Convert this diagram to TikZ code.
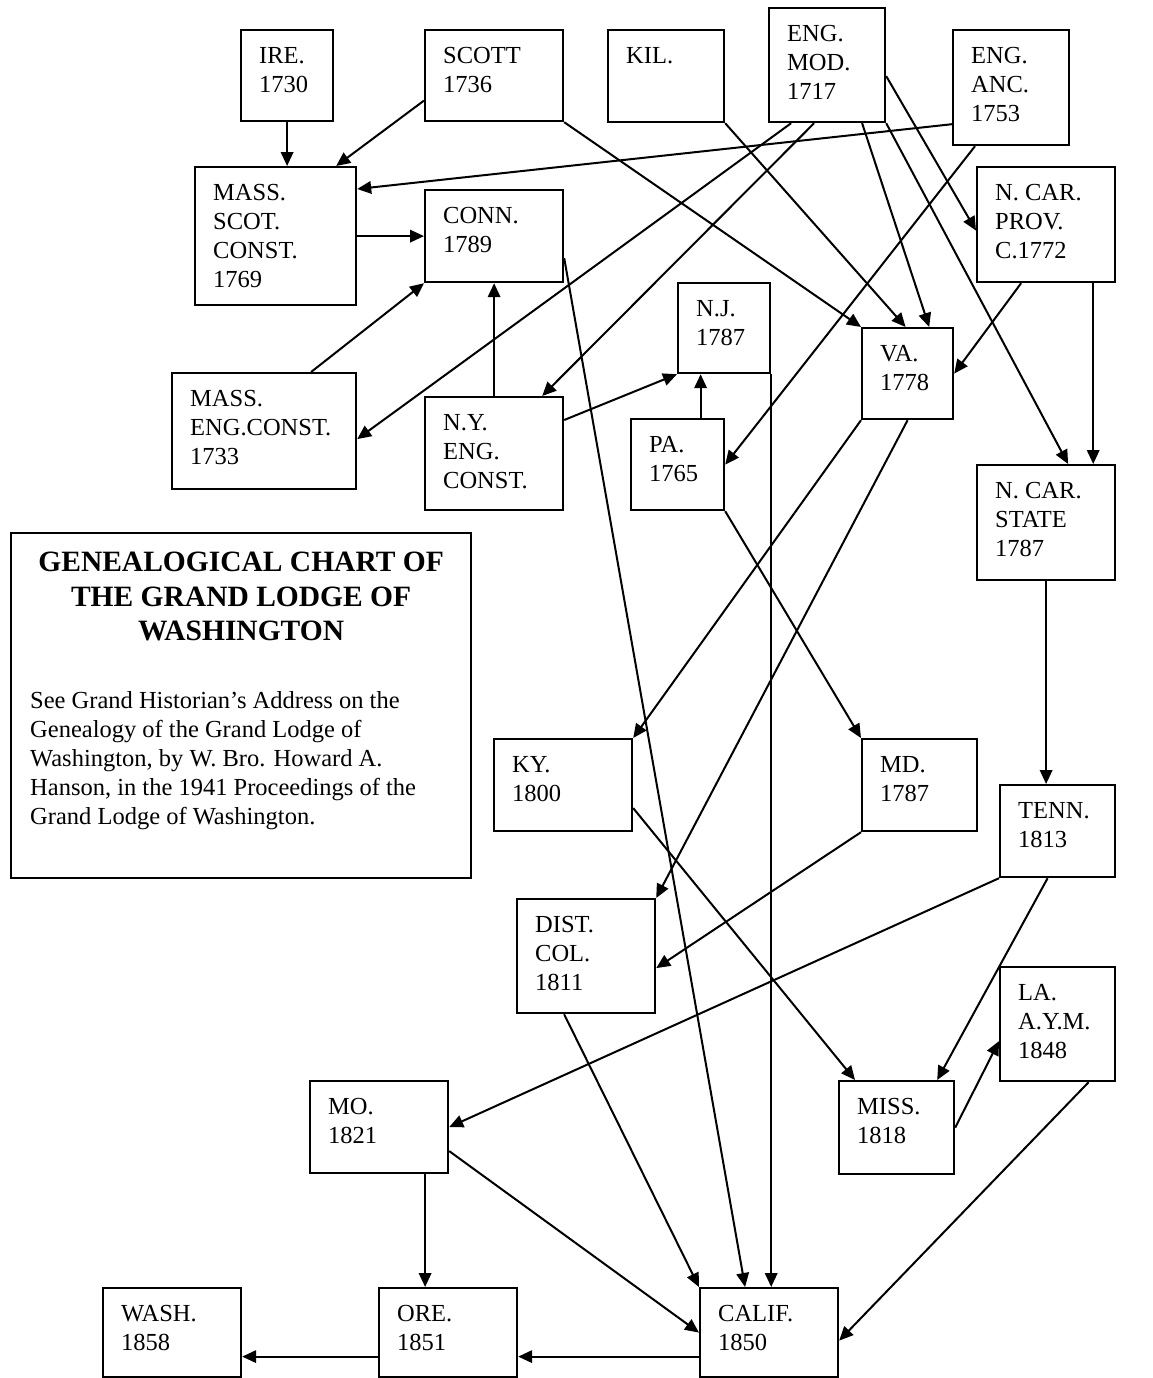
\documentclass[tikz,border=0pt]{standalone}
\usepackage{fontspec}
\setmainfont{Liberation Serif}
\usetikzlibrary{arrows.meta}

\begin{document}
\begin{tikzpicture}[x=1pt, y=-1pt,
		lodge/.style={draw, line width=2.2pt, rectangle, anchor=north west, inner sep=0pt},
		lbl/.style={anchor=north west, align=left, inner sep=0pt, xshift=19pt, yshift=-18.5pt, font={\fontsize{24.5}{29}\selectfont}},
		arr/.style={line width=2pt, -{Triangle[length=14pt, width=12.5pt]}}]
			\useasboundingbox (0, 0) rectangle (1153, 1378);

			\draw (240, 29) 	node[lodge, minimum width=92pt, minimum height=91pt] 	(ire) 		{};
			\draw (424, 29) 	node[lodge, minimum width=138pt, minimum height=91pt] 	(scott) 	{};
			\draw (607, 29) 	node[lodge, minimum width=116pt, minimum height=92pt] 	(kil) 		{};
			\draw (768, 7) 		node[lodge, minimum width=116pt, minimum height=114pt] 	(engmod) 	{};
			\draw (952, 29) 	node[lodge, minimum width=116pt, minimum height=115pt] 	(engacc) 	{};
			\draw (194, 166) 	node[lodge, minimum width=161pt, minimum height=138pt] 	(massscot) 	{};
			\draw (424, 189) 	node[lodge, minimum width=138pt, minimum height=92pt] 	(conn) 		{};
			\draw (976, 166) 	node[lodge, minimum width=138pt, minimum height=115pt] 	(ncarprov) 	{};
			\draw (677, 282) 	node[lodge, minimum width=92pt, minimum height=90pt] 	(nj) 		{};
			\draw (861, 327) 	node[lodge, minimum width=91pt, minimum height=91pt] 	(va) 		{};
			\draw (171, 372) 	node[lodge, minimum width=184pt, minimum height=116pt] 	(masseng) 	{};
			\draw (424, 396) 	node[lodge, minimum width=138pt, minimum height=113pt] 	(ny) 		{};
			\draw (630, 418) 	node[lodge, minimum width=93pt, minimum height=91pt] 	(pa) 		{};
			\draw (976, 464) 	node[lodge, minimum width=138pt, minimum height=115pt] 	(ncarstate) {};
			\draw (10, 532) 	node[lodge, minimum width=460pt, minimum height=345pt] 	(title) 	{};
			\draw (493, 738) 	node[lodge, minimum width=138pt, minimum height=92pt] 	(ky) 		{};
			\draw (861, 738) 	node[lodge, minimum width=115pt, minimum height=92pt] 	(md) 		{};
			\draw (999, 784) 	node[lodge, minimum width=115pt, minimum height=92pt] 	(tenn) 		{};
			\draw (516, 898) 	node[lodge, minimum width=138pt, minimum height=114pt] 	(distcol) 	{};
			\draw (999, 966) 	node[lodge, minimum width=115pt, minimum height=114pt] 	(la) 		{};
			\draw (309, 1080) 	node[lodge, minimum width=138pt, minimum height=92pt] 	(mo) 		{};
			\draw (838, 1080) 	node[lodge, minimum width=115pt, minimum height=93pt] 	(miss) 		{};
			\draw (102, 1287) 	node[lodge, minimum width=138pt, minimum height=89pt] 	(wash) 		{};
			\draw (378, 1287) 	node[lodge, minimum width=138pt, minimum height=89pt] 	(ore) 		{};
			\draw (699, 1287) 	node[lodge, minimum width=138pt, minimum height=89pt] 	(calif) 	{};

			\draw (ire.north west) 			node[lbl] 	(ire_t) 		{IRE.\\1730};
			\draw (scott.north west) 		node[lbl] 	(scott_t) 		{SCOTT\\1736};
			\draw (kil.north west) 			node[lbl] 	(kil_t) 		{KIL.};
			\draw (engmod.north west) 		node[lbl] 	(engmod_t) 		{ENG.\\MOD.\\1717};
			\draw (engacc.north west) 		node[lbl] 	(engacc_t) 		{ENG.\\ANC.\\1753};
			\draw (massscot.north west) 	node[lbl] 	(massscot_t) 	{MASS.\\SCOT.\\CONST.\\1769};
			\draw (conn.north west) 		node[lbl] 	(conn_t) 		{CONN.\\1789};
			\draw (ncarprov.north west) 	node[lbl] 	(ncarprov_t) 	{N. CAR.\\PROV.\\C.1772};
			\draw (nj.north west) 			node[lbl] 	(nj_t) 			{N.J.\\1787};
			\draw (va.north west) 			node[lbl] 	(va_t) 			{VA.\\1778};
			\draw (masseng.north west) 		node[lbl] 	(masseng_t) 	{MASS.\\ENG.CONST.\\1733};
			\draw (ny.north west) 			node[lbl] 	(ny_t) 			{N.Y.\\ENG.\\CONST.};
			\draw (pa.north west) 			node[lbl] 	(pa_t) 			{PA.\\1765};
			\draw (ncarstate.north west) 	node[lbl] 	(ncarstate_t) 	{N. CAR.\\STATE\\1787};
			\draw (ky.north west) 			node[lbl] 	(ky_t) 			{KY.\\1800};
			\draw (md.north west) 			node[lbl] 	(md_t) 			{MD.\\1787};
			\draw (tenn.north west) 		node[lbl] 	(tenn_t) 		{TENN.\\1813};
			\draw (distcol.north west) 		node[lbl] 	(distcol_t) 	{DIST.\\COL.\\1811};
			\draw (la.north west) 			node[lbl] 	(la_t) 			{LA.\\A.Y.M.\\1848};
			\draw (mo.north west) 			node[lbl] 	(mo_t) 			{MO.\\1821};
			\draw (miss.north west) 		node[lbl] 	(miss_t) 		{MISS.\\1818};
			\draw (wash.north west) 		node[lbl] 	(wash_t) 		{WASH.\\1858};
			\draw (ore.north west) 			node[lbl] 	(ore_t) 		{ORE.\\1851};
			\draw (calif.north west) 		node[lbl] 	(calif_t) 		{CALIF.\\1850};

			\draw ([yshift=-20pt]title.north) node[anchor=north, align=center, inner sep=0pt, font={\bfseries\fontsize{29.5}{34.5}\selectfont}] (title_h) {GENEALOGICAL CHART OF\\THE GRAND LODGE OF\\WASHINGTON};
			\draw ([xshift=20pt, yshift=-159pt]title.north west) node[anchor=north west, align=left, inner sep=0pt, font={\fontsize{24.5}{29}\selectfont}] (title_b) {See Grand Historian’s Address on the\\Genealogy of the Grand Lodge of\\Washington, by W. Bro. Howard A.\\Hanson, in the 1941 Proceedings of the\\Grand Lodge of Washington.};

			\draw[arr] (ire.south) -- (ire.south |- massscot.north);
			\draw[arr] ([yshift=-25pt]scott.west) -- ([xshift=-21pt]massscot.north east);
			\draw[arr] (scott.south east) -- (va.north west);
			\draw[arr] (kil.south east) -- ([xshift=-2pt]va.north);
			\draw[arr] ([xshift=35pt]engmod.south) -- ([xshift=-25pt]va.north east);
			\draw[arr] ([xshift=-36pt]engmod.south) -- ([yshift=-8pt]masseng.east);
			\draw[arr] ([xshift=-13pt]engmod.south) -- ([xshift=-22pt]ny.north east);
			\draw[arr] ([yshift=-11pt]engmod.east) -- ([yshift=-6pt]ncarprov.west);
			\draw[arr] (engmod.south east) -- ([xshift=22pt]ncarstate.north);
			\draw[arr] ([yshift=22pt]engacc.south west) -- ([yshift=-23pt]massscot.north east);
			\draw[arr] ([xshift=23pt]engacc.south west) -- (pa.east);
			\draw[arr] (massscot.east) -- (massscot.east -| conn.west);
			\draw[arr] ([xshift=47pt]masseng.north) -- (conn.south west);
			\draw[arr] (ny.north) -- (conn.south);
			\draw[arr] ([yshift=-24pt]ny.north east) -- (nj.south west);
			\draw[arr] ([xshift=23pt]pa.north) -- ([xshift=23pt]pa.north |- nj.south);
			\draw[arr] ([yshift=-22pt]conn.east) -- ([xshift=-24pt]calif.north);
			\draw[arr] (nj.south east) -- (nj.south east |- calif.north);
			\draw[arr] ([xshift=-25pt]ncarprov.south) -- (va.east);
			\draw[arr] ([xshift=-23pt]ncarprov.south east) -- ([xshift=-23pt]ncarprov.south east |- ncarstate.north);
			\draw[arr] (va.south west) -- (ky.north east);
			\draw[arr] (va.south) -- (distcol.north east);
			\draw[arr] (pa.south east) -- (md.north west);
			\draw[arr] (ncarstate.south) -- (ncarstate.south |- tenn.north);
			\draw[arr] ([yshift=-23pt]ky.east) -- ([xshift=17pt]miss.north west);
			\draw[arr] (md.south west) -- ([yshift=-12pt]distcol.east);
			\draw[arr] (tenn.south west) -- (mo.east);
			\draw[arr] ([xshift=-10pt]tenn.south) -- ([xshift=-18pt]miss.north east);
			\draw[arr] (miss.east) -- ([yshift=-17pt]la.west);
			\draw[arr] ([xshift=-22pt]distcol.south) -- (calif.north west);
			\draw[arr] ([xshift=46pt]mo.south) -- ([xshift=46pt]mo.south |- ore.north);
			\draw[arr] ([yshift=-24pt]mo.east) -- (calif.west);
			\draw[arr] ([xshift=31pt]la.south) -- ([yshift=-8pt]calif.east);
			\draw[arr] ([yshift=-24pt]calif.west) -- ([yshift=-24pt]calif.west -| ore.east);
			\draw[arr] ([yshift=-24pt]ore.west) -- ([yshift=-24pt]ore.west -| wash.east);
		\end{tikzpicture}
\end{document}
